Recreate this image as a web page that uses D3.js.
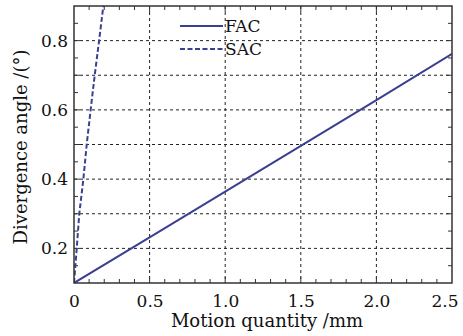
<!DOCTYPE html>
<html><head><meta charset="utf-8">
<script src="https://cdn.jsdelivr.net/npm/d3@7"></script>
<style>body{margin:0;background:#fff}svg{display:block}svg text{font-family:"DejaVu Serif",serif !important;fill:#111}</style>
</head><body>
<svg id="c" width="463" height="336"></svg>
<script>
const facX = [0, 0.5, 1.0, 1.5, 2.0, 2.5];
const facY = [0.1, 0.232, 0.364, 0.496, 0.628, 0.762];
const sacX = [0, 0.018, 0.035, 0.062, 0.084, 0.11, 0.137, 0.166, 0.194];
const sacY = [0.1, 0.2, 0.3, 0.4, 0.5, 0.6, 0.7, 0.8, 0.9];
const xTicks = [0, 0.5, 1.0, 1.5, 2.0, 2.5];
const xTickLabels = ["0", "0.5", "1.0", "1.5", "2.0", "2.5"];
const yTicks = [0.2, 0.4, 0.6, 0.8];
const yGrid = [0.2, 0.3, 0.4, 0.5, 0.6, 0.7, 0.8];
const seriesNames = ["FAC", "SAC"];

const svg = d3.select("#c");
const L = 74, R = 452, T = 6, B = 283;
const x = d3.scaleLinear().domain([0, 2.5]).range([L, R]);
const y = d3.scaleLinear().domain([0.1, 0.9]).range([B, T]);
const blue = "#3b3f91";

const g = svg.append("g");
g.selectAll("line.h").data(yGrid).enter().append("line")
  .attr("x1", L).attr("x2", R).attr("y1", d => y(d)).attr("y2", d => y(d))
  .attr("stroke", "#222").attr("stroke-width", 1).attr("stroke-dasharray", "3,3");
g.selectAll("line.v").data(xTicks.slice(1, -1)).enter().append("line")
  .attr("y1", T).attr("y2", B).attr("x1", d => x(d)).attr("x2", d => x(d))
  .attr("stroke", "#222").attr("stroke-width", 1).attr("stroke-dasharray", "3,3");

const xMinor = d3.range(1, 25).map(i => i / 10);
const yMinor = d3.range(1, 16).map(i => 0.1 + i * 0.05);
const tk = svg.append("g").attr("stroke", "#333").attr("stroke-width", 1);
xMinor.forEach(v => {
  const len = Math.abs(v * 2 - Math.round(v * 2)) < 1e-6 ? 6 : 4;
  tk.append("line").attr("x1", x(v)).attr("x2", x(v)).attr("y1", B).attr("y2", B - len);
  tk.append("line").attr("x1", x(v)).attr("x2", x(v)).attr("y1", T).attr("y2", T + len);
});
yMinor.forEach(v => {
  const len = Math.abs(v * 10 - Math.round(v * 10)) < 1e-6 ? 6 : 4;
  tk.append("line").attr("y1", y(v)).attr("y2", y(v)).attr("x1", L).attr("x2", L + len);
  tk.append("line").attr("y1", y(v)).attr("y2", y(v)).attr("x1", R).attr("x2", R - len);
});

svg.append("clipPath").attr("id", "clip").append("rect").attr("x", L).attr("y", T).attr("width", R - L).attr("height", B - T);

const line = d3.line().x(d => x(d[0])).y(d => y(d[1]));
svg.append("path").datum(facX.map((v, i) => [v, facY[i]])).attr("d", line)
  .attr("fill", "none").attr("stroke", blue).attr("stroke-width", 2).attr("clip-path", "url(#clip)");
svg.append("path").datum(sacX.map((v, i) => [v, sacY[i]])).attr("d", line)
  .attr("fill", "none").attr("stroke", blue).attr("stroke-width", 2).attr("stroke-dasharray", "5,2.5").attr("clip-path", "url(#clip)");

svg.append("rect").attr("x", L).attr("y", T).attr("width", R - L).attr("height", B - T)
  .attr("fill", "none").attr("stroke", "#333").attr("stroke-width", 1.5);

const xAxis = d3.axisBottom(x).tickValues(xTicks).tickFormat((d, i) => xTickLabels[i]).tickSize(0).tickPadding(12);
const xa = svg.append("g").attr("transform", `translate(0,${B})`).call(xAxis);
xa.select(".domain").remove();
xa.selectAll("text").attr("font-size", 17).attr("fill", "#111");
xa.selectAll("text").filter((d, i) => i === xTicks.length - 1).attr("text-anchor", "end").attr("dx", 6);

const yAxis = d3.axisLeft(y).tickValues(yTicks).tickFormat(d3.format(".1f")).tickSize(0).tickPadding(6);
const ya = svg.append("g").attr("transform", `translate(${L},0)`).call(yAxis);
ya.select(".domain").remove();
ya.selectAll("text").attr("font-size", 17).attr("fill", "#111");

svg.append("text").attr("x", (L + R) / 2 + 4).attr("y", 327).attr("text-anchor", "middle")
  .attr("font-size", 18).text("Motion quantity /mm");
svg.append("text").attr("transform", "translate(27,147) rotate(-90)").attr("text-anchor", "middle")
  .attr("font-size", 18).text("Divergence angle /(°)");

const leg = svg.append("g");
seriesNames.forEach((n, i) => {
  const yy = 26 + i * 23;
  leg.append("line").attr("x1", 180).attr("x2", 223).attr("y1", yy).attr("y2", yy)
    .attr("stroke", blue).attr("stroke-width", 2).attr("stroke-dasharray", i ? "5,2.5" : null);
  leg.append("text").attr("x", 225).attr("y", yy + 6).attr("font-size", 17).text(n);
});
</script>
</body></html>
